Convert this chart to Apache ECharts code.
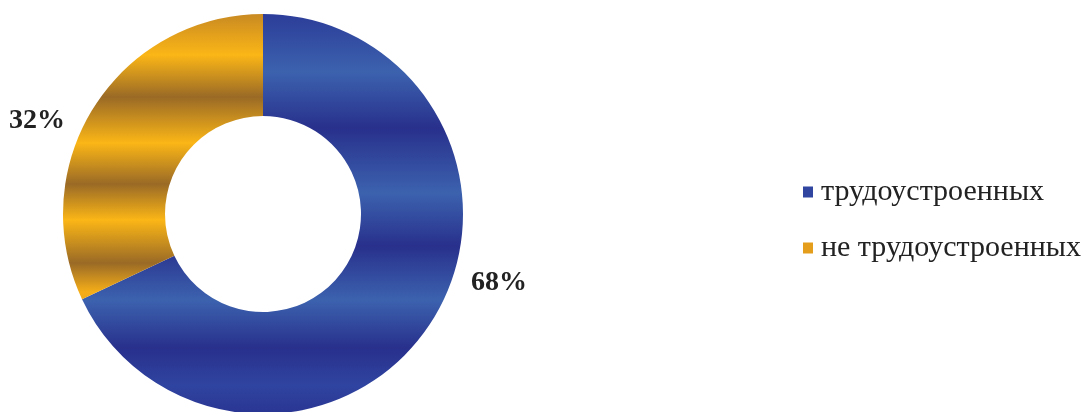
<!DOCTYPE html>
<html>
<head>
<meta charset="utf-8">
<script src="https://cdn.jsdelivr.net/npm/echarts@6/dist/echarts.min.js"></script>
<style>html,body{margin:0;padding:0;background:#fff;}#c{width:1092px;height:412px;}</style>
</head>
<body>
<div id="c"></div>
<script>
const categories = ['трудоустроенных', 'не трудоустроенных'];
const values = [68, 32];
const labelsText = ['68%', '32%'];
const legendColors = ['#2f45a0', '#e59e1c'];

const cx = 263, cy = 214, R = 200;
function grad(stops) {
  return { type: 'linear', x: 0, y: cy - R, x2: 0, y2: cy + R, global: true,
    colorStops: stops.map(s => ({ offset: (s[0] - (cy - R)) / (2 * R), color: s[1] })) };
}
const blueGrad = grad([
  [14, '#2c3d99'], [72, '#3c62ae'], [128, '#28308c'], [193, '#3c62ae'],
  [246, '#28308c'], [300, '#3c62ae'], [348, '#28308c'], [385, '#2f44a0'], [414, '#2a3592']
]);
const yellowGrad = grad([
  [14, '#c98a22'], [55, '#fbb616'], [97, '#9a6a26'], [143, '#fbb616'],
  [184, '#9a6a26'], [220, '#fbb616'], [263, '#9a6a26'], [292, '#f5ae18'], [330, '#d99a1f']
]);
const fills = [blueGrad, yellowGrad];

const chart = echarts.init(document.getElementById('c'));
chart.setOption({
  animation: false,
  backgroundColor: '#fff',
  legend: {
    orient: 'vertical', left: 798, top: 172, itemGap: 26,
    icon: 'rect', itemWidth: 10, itemHeight: 11,
    textStyle: { fontFamily: 'Liberation Serif', fontSize: 30, color: '#222', padding: [0, 0, 0, 3] },
    data: categories.map((n, i) => ({ name: n, itemStyle: { color: legendColors[i] } }))
  },
  series: [{
    type: 'pie',
    center: [cx, cy], radius: [98, R],
    startAngle: 90, clockwise: true,
    label: {
      show: true, position: 'outside', overflow: 'none', width: 100,
      formatter: p => labelsText[p.dataIndex],
      fontFamily: 'Liberation Serif', fontWeight: 'bold', fontSize: 28, color: '#222'
    },
    labelLine: { show: false },
    labelLayout: p => p.dataIndex === 0
      ? { x: 471, y: 283, align: 'left', verticalAlign: 'middle' }
      : { x: 9, y: 121, align: 'left', verticalAlign: 'middle' },
    emphasis: { disabled: true },
    data: categories.map((n, i) => ({ name: n, value: values[i], itemStyle: { color: fills[i] } }))
  }]
});
</script>
</body>
</html>
